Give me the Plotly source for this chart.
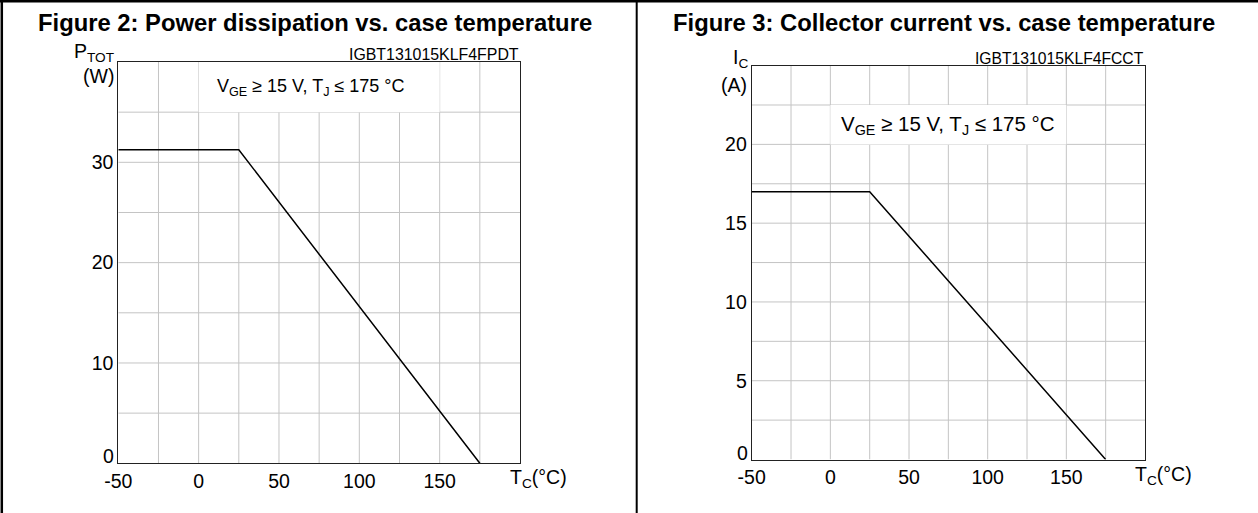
import plotly.graph_objects as go

# ---- data ----
tc_points = [-50, 25, 175]
ptot_w = [31.25, 31.25, 0]
ic_a = [17, 17, 0]

x_ticks = [-50, 0, 50, 100, 150]
x_tick_text = ["-50", "0", "50", "100", "150"]
y1_ticks = [10, 20, 30]
y2_ticks = [5, 10, 15, 20]

title_left = "Figure 2: Power dissipation vs. case temperature"
title_right = "Figure 3: Collector current vs. case temperature"
code_left = "IGBT131015KLF4FPDT"
code_right = "IGBT131015KLF4FCCT"
cond_text = "V<sub>GE</sub> ≥ 15 V, T<sub>J</sub> ≤ 175 °C"
x_unit = "T<sub>C</sub>(°C)"

W, H = 1258, 513
FONT = "Liberation Sans, Arial, sans-serif"

def px(x):
    return x / W

def py(y):
    return 1 - y / H

# plot area pixel boxes
L1 = dict(x0=118.3, x1=520.0, y0=62.0, y1=463.3)
L2 = dict(x0=751.7, x1=1145.0, y0=65.6, y1=459.5)

fig = go.Figure()
fig.add_trace(go.Scatter(x=tc_points, y=ptot_w, mode="lines",
                         line=dict(color="black", width=1.5),
                         xaxis="x", yaxis="y", showlegend=False, hoverinfo="skip"))
fig.add_trace(go.Scatter(x=tc_points, y=ic_a, mode="lines",
                         line=dict(color="black", width=1.5),
                         xaxis="x2", yaxis="y2", showlegend=False, hoverinfo="skip"))

grid = "#c4c4c4"
frame = "#222222"
tickfont = dict(family=FONT, size=19.5, color="black")

def xax(box, anchor):
    return dict(domain=[px(box["x0"]), px(box["x1"])], range=[-50, 200],
                anchor=anchor, tickmode="array", tickvals=x_ticks, ticktext=x_tick_text,
                showgrid=False, zeroline=False, showline=True, mirror=True,
                linecolor=frame, linewidth=1, ticks="", tickfont=tickfont,
                automargin=False, fixedrange=True)

def yax(box, anchor, rng, ticks):
    return dict(domain=[py(box["y1"]), py(box["y0"])], range=rng,
                anchor=anchor, tickmode="array", tickvals=ticks,
                showgrid=False, zeroline=False, showline=True, mirror=True,
                linecolor=frame, linewidth=1, ticks="", tickfont=tickfont,
                automargin=False, fixedrange=True)

shapes = []
# gridlines (drawn under text boxes)
for ref_x, ref_y, ymax, ystep in [("x", "y", 40, 5), ("x2", "y2", 25, 2.5)]:
    v = -25
    while v < 200:
        shapes.append(dict(type="line", xref=ref_x, yref=ref_y, x0=v, x1=v, y0=0, y1=ymax,
                           line=dict(color=grid, width=1), layer="below"))
        v += 25
    k = 1
    while k * ystep < ymax - 1e-9:
        yv = k * ystep
        shapes.append(dict(type="line", xref=ref_x, yref=ref_y, x0=-50, x1=200, y0=yv, y1=yv,
                           line=dict(color=grid, width=1), layer="below"))
        k += 1

# white boxes behind condition text
shapes.append(dict(type="rect", xref="x", yref="y", x0=0, x1=150, y0=35, y1=40,
                   fillcolor="white", line=dict(width=0), layer="below"))
shapes.append(dict(type="rect", xref="x2", yref="y2", x0=0, x1=150, y0=20, y1=22.5,
                   fillcolor="white", line=dict(width=0), layer="below"))

# page borders
shapes.append(dict(type="line", xref="paper", yref="paper", x0=0, x1=1, y0=py(1.3), y1=py(1.3),
                   line=dict(color="black", width=2.5)))
shapes.append(dict(type="line", xref="paper", yref="paper", x0=px(1.8), x1=px(1.8), y0=0, y1=1,
                   line=dict(color="black", width=2.5)))
shapes.append(dict(type="line", xref="paper", yref="paper", x0=px(636.7), x1=px(636.7), y0=0, y1=1,
                   line=dict(color="black", width=2)))

ann = []
bold = dict(family=FONT, size=23.8, color="black")
ann.append(dict(text="<b>" + title_left + "</b>", xref="paper", yref="paper",
                x=px(314.6), y=py(23), xanchor="center", yanchor="middle",
                showarrow=False, font=bold))
ann.append(dict(text="<b>" + title_right + "</b>", xref="paper", yref="paper",
                x=px(944.3), y=py(23), xanchor="center", yanchor="middle",
                showarrow=False, font=bold))

ann.append(dict(text=code_left, xref="paper", yref="paper", x=px(L1["x1"] + 1), y=py(L1["y0"]),
                xanchor="right", yanchor="bottom", yshift=-3, showarrow=False,
                font=dict(family=FONT, size=15.9, color="black")))
ann.append(dict(text=code_right, xref="paper", yref="paper", x=px(L2["x1"] + 1), y=py(L2["y0"]),
                xanchor="right", yanchor="bottom", yshift=-3, showarrow=False,
                font=dict(family=FONT, size=15.7, color="black")))

ann.append(dict(text=cond_text, xref="x", yref="y", x=70, y=37.5, xanchor="center",
                yanchor="middle", showarrow=False, font=dict(family=FONT, size=18, color="black")))
ann.append(dict(text=cond_text, xref="x2", yref="y2", x=75, y=21.25, xanchor="center",
                yanchor="middle", showarrow=False, font=dict(family=FONT, size=20.5, color="black")))

afont = dict(family=FONT, size=19.5, color="black")
# y axis titles
ann.append(dict(text="P<sub>TOT</sub>", xref="paper", yref="paper", x=px(117), y=py(52),
                xanchor="right", yanchor="middle", showarrow=False, font=afont))
ann.append(dict(text="(W)", xref="paper", yref="paper", x=px(116), y=py(76),
                xanchor="right", yanchor="middle", showarrow=False, font=afont))
ann.append(dict(text="I<sub>C</sub>", xref="paper", yref="paper", x=px(750), y=py(59),
                xanchor="right", yanchor="middle", showarrow=False, font=afont))
ann.append(dict(text="(A)", xref="paper", yref="paper", x=px(749), y=py(85),
                xanchor="right", yanchor="middle", showarrow=False, font=afont))

# zero labels (raised) and x unit labels
for xr, yr in [("x", "y"), ("x2", "y2")]:
    ann.append(dict(text="0", xref=xr, yref=yr, x=-50, y=0, xanchor="right", yanchor="middle",
                    xshift=-2, yshift=7, showarrow=False, font=tickfont))
    ann.append(dict(text=x_unit, xref=xr, yref=yr, x=200, y=0, xanchor="center", yanchor="top",
                    xshift=18, yshift=-1, showarrow=False, font=tickfont))

fig.update_layout(
    width=W, height=H, autosize=False,
    margin=dict(l=0, r=0, t=0, b=0, pad=0),
    paper_bgcolor="white", plot_bgcolor="white",
    xaxis=xax(L1, "y"), yaxis=yax(L1, "x", [0, 40], y1_ticks),
    xaxis2=xax(L2, "y2"), yaxis2=yax(L2, "x2", [0, 25], y2_ticks),
    shapes=shapes, annotations=ann,
    font=dict(family=FONT, color="black"),
)

post = (
    "document.documentElement.style.margin='0';"
    "document.documentElement.style.overflow='hidden';"
    "document.body.style.margin='0';document.body.style.padding='0';"
    "document.body.style.overflow='hidden';"
    "var gd=document.getElementById('{plot_id}');"
    "gd.style.position='fixed';gd.style.left='0px';gd.style.top='0px';"
)

fig.write_html("out.html", config={"displayModeBar": False, "staticPlot": True},
               post_script=post)
